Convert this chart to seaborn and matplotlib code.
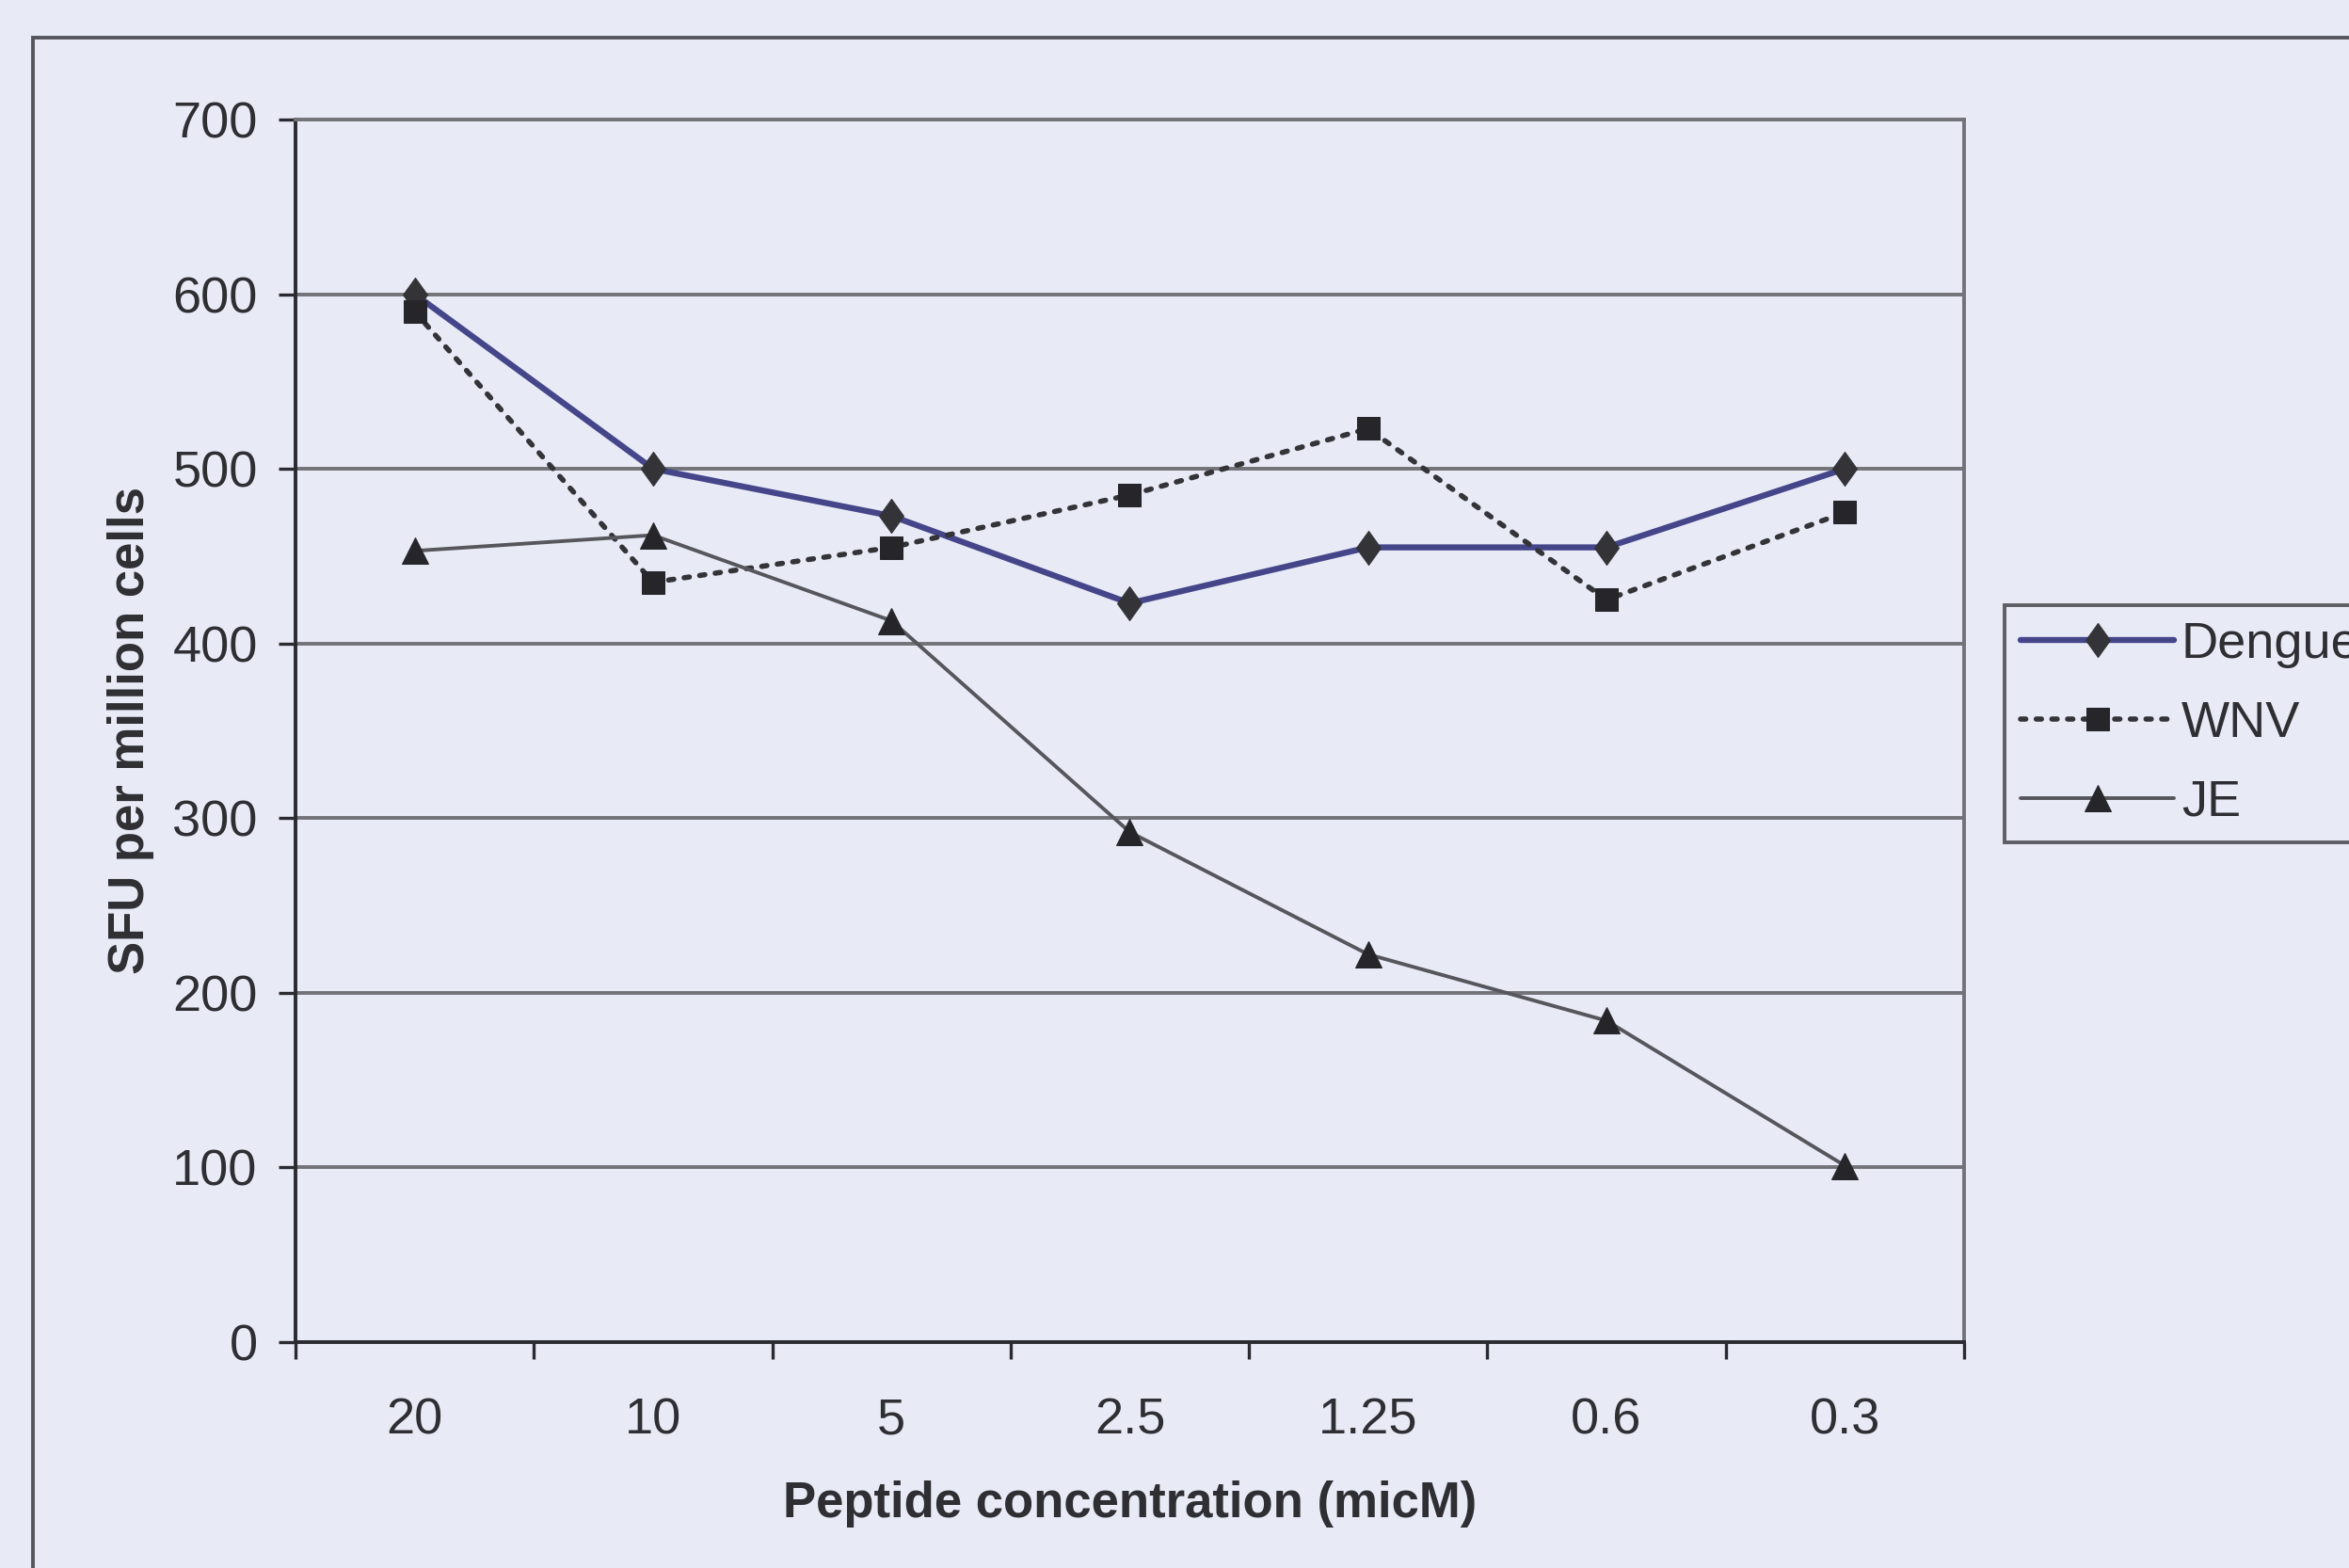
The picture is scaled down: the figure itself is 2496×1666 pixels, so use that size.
import matplotlib
matplotlib.use("Agg")
import matplotlib.pyplot as plt
from matplotlib.patches import Rectangle
from matplotlib.path import Path
import seaborn as sns
import pandas as pd

# Peptide concentrations (micM), in the order they were tested
concentrations = ["20", "10", "5", "2.5", "1.25", "0.6", "0.3"]

# Spot-forming units per million cells for each virus
dengue = [600, 500, 473, 423, 455, 455, 500]
wnv = [590, 435, 455, 485, 523, 425, 475]
je = [453, 462, 413, 292, 222, 184, 101]

series_names = ["Dengue", "WNV", "JE"]
y_ticks = [0, 100, 200, 300, 400, 500, 600, 700]

frames = []
for name, vals in zip(series_names, [dengue, wnv, je]):
    frames.append(pd.DataFrame({
        "pos": range(len(concentrations)),
        "conc": concentrations,
        "sfu": vals,
        "virus": name,
    }))
data = pd.concat(frames, ignore_index=True)

sns.set_theme(style="white")
plt.rcParams["font.family"] = ["Liberation Sans", "DejaVu Sans"]

bg = "#e8ebf6"
text_col = "#2e2e33"
grid_col = "#727279"
axis_col = "#2a2a30"

# Slightly tall diamond marker
diamond = Path([(0, 1), (0.72, 0), (0, -1), (-0.72, 0), (0, 1)],
               [Path.MOVETO, Path.LINETO, Path.LINETO, Path.LINETO, Path.CLOSEPOLY])

fig = plt.figure(figsize=(24.96, 16.66), dpi=100, facecolor=bg)
ax = fig.add_axes([0.1258, 0.1441, 0.7103, 0.7797])
ax.set_facecolor(bg)

styles = {
    "Dengue": dict(color="#45458a", linestyle="-", linewidth=4.6, marker=diamond,
                   markersize=26, markerfacecolor="#333338", markeredgecolor="#333338"),
    "WNV": dict(color="#333338", linestyle=(0, (1, 2.0)), linewidth=4.0, marker="s",
                markersize=17, markerfacecolor="#26262a", markeredgecolor="#26262a",
                dash_capstyle="round"),
    "JE": dict(color="#56565c", linestyle="-", linewidth=2.8, marker="^",
               markersize=20, markerfacecolor="#26262a", markeredgecolor="#26262a"),
}

for name in series_names:
    sub = data[data["virus"] == name]
    sns.lineplot(data=sub, x="pos", y="sfu", ax=ax, label=name,
                 legend=False, sort=False, **styles[name])

# Horizontal gridlines and plot-area frame
ax.set_ylim(0, 700)
ax.set_xlim(-0.5, len(concentrations) - 0.5)
ax.set_yticks(y_ticks)
ax.set_yticklabels([str(v) for v in y_ticks])
ax.yaxis.grid(True, color=grid_col, linewidth=2.8)
ax.xaxis.grid(False)
ax.set_axisbelow(True)

for side in ["top", "right"]:
    ax.spines[side].set_visible(True)
    ax.spines[side].set_color(grid_col)
    ax.spines[side].set_linewidth(2.8)
for side in ["left", "bottom"]:
    ax.spines[side].set_color(axis_col)
    ax.spines[side].set_linewidth(2.8)

# Category labels centred, tick marks on category boundaries
ax.set_xticks(range(len(concentrations)))
ax.set_xticklabels(concentrations)
ax.set_xticks([i - 0.5 for i in range(len(concentrations) + 1)], minor=True)
ax.tick_params(axis="x", which="major", length=0, pad=42, labelsize=39, labelcolor=text_col)
ax.tick_params(axis="x", which="minor", bottom=True, length=13, width=2.4, color=axis_col)
ax.tick_params(axis="y", which="major", left=True, length=13, width=2.4, color=axis_col,
               pad=16, labelsize=39, labelcolor=text_col)

ax.set_xlabel("Peptide concentration (micM)", fontsize=38, fontweight="bold",
              color=text_col, labelpad=28)
ax.set_ylabel("SFU per million cells", fontsize=38, fontweight="bold",
              color=text_col, labelpad=14)

# Outer chart border, running past the right and bottom edges
fig.patches.append(Rectangle((35 / 2496, -0.1), 1.2, 1 - 40 / 1666 + 0.1,
                             transform=fig.transFigure, fill=False,
                             edgecolor="#55555c", linewidth=2.8, zorder=0))

handles, labels = ax.get_legend_handles_labels()
leg = fig.legend(handles, labels, loc="upper left",
                 bbox_to_anchor=(2130 / 2496, 1 - 643 / 1666),
                 frameon=True, fontsize=39, handlelength=3.0,
                 labelspacing=0.62, borderpad=0.32, handletextpad=0.15,
                 borderaxespad=0)
leg.get_frame().set_facecolor(bg)
leg.get_frame().set_edgecolor("#3a3a40")
leg.get_frame().set_linewidth(2.8)
leg.get_frame().set_boxstyle("square", pad=0)
for t in leg.get_texts():
    t.set_color(text_col)

fig.savefig("out.png", dpi=100, facecolor=bg)
